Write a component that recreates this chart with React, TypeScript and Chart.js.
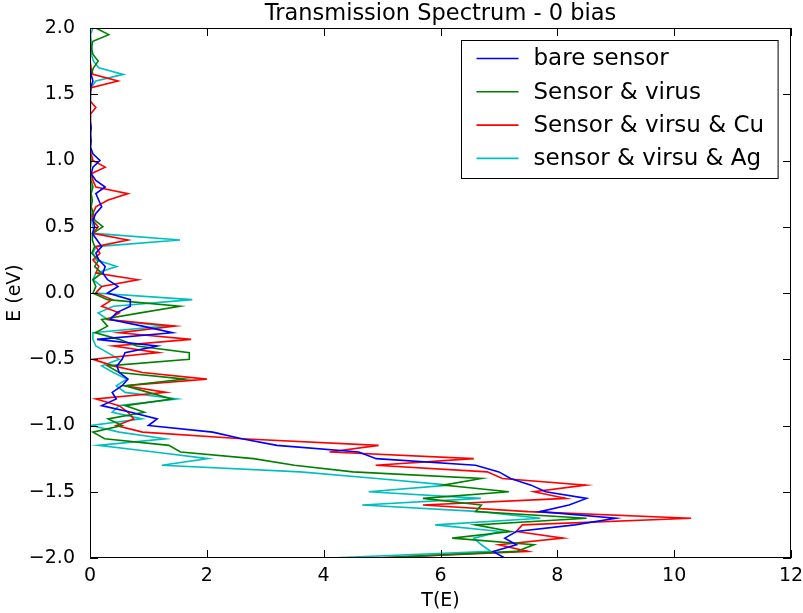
import { useEffect, useRef } from 'react';
import { Chart, registerables } from 'chart.js';

Chart.register(...registerables);

const energies = [
  2.0, 1.95, 1.9, 1.85, 1.8, 1.75, 1.7, 1.65, 1.6, 1.55,
  1.5, 1.45, 1.4, 1.35, 1.3, 1.25, 1.2, 1.15, 1.1, 1.05,
  1.0, 0.95, 0.9, 0.85, 0.8, 0.75, 0.7, 0.65, 0.6, 0.55,
  0.5, 0.45, 0.4, 0.35, 0.3, 0.25, 0.2, 0.15, 0.1, 0.05,
  0.0, -0.05, -0.1, -0.15, -0.2, -0.25, -0.3, -0.35, -0.4, -0.45,
  -0.5, -0.55, -0.6, -0.65, -0.7, -0.75, -0.8, -0.85, -0.9, -0.95,
  -1.0, -1.05, -1.1, -1.15, -1.2, -1.25, -1.3, -1.35, -1.4, -1.45,
  -1.5, -1.55, -1.6, -1.65, -1.7, -1.75, -1.8, -1.85, -1.9, -1.95,
  -2.0,
];

const bareSensor = [
  0, 0, 0, 0, 0, 0.01, 0, 0.02, 0.05, 0.01,
  0, 0, 0.01, 0, 0.01, 0.02, 0.01, 0.02, 0.01, 0.05,
  0.17, 0.05, 0.02, 0.1, 0.26, 0.1, 0.15, 0.2, 0.1, 0.05,
  0.08, 0.04, 0.12, 0.2, 0.1, 0.15, 0.26, 0.22, 0.3, 0.48,
  0.3, 0.69, 0.69, 0.45, 0.35, 0.9, 1.41, 0.12, 1.15, 0.6,
  0.55, 0.46, 0.5, 0.65, 0.55, 0.38, 0.45, 0.2, 0.7, 1.15,
  1.0, 2.1, 2.6, 3.2, 4.6, 4.9, 6.6, 7.0, 7.2, 7.55,
  7.8, 8.5, 8.2, 7.7, 9.0, 8.3, 7.3, 7.1, 7.3, 6.9,
  7.1,
];

const sensorVirus = [
  0.1, 0.32, 0.05, 0.02, 0.05, 0.14, 0.06, 0.02, 0, 0.01,
  0, 0, 0.01, 0, 0, 0.01, 0, 0, 0.01, 0,
  0.02, 0.01, 0, 0.02, 0.05, 0.02, 0.04, 0.02, 0.06, 0.08,
  0.22, 0.05, 0.04, 0.08, 0.03, 0.15, 0.08, 0.2, 0.05, 0.1,
  0.05, 0.3, 1.54, 0.86, 0.2, 0.3, 0.09, 0.5, 0.8, 1.7,
  1.7, 0.3, 0.5, 1.63, 0.6, 1.0, 1.4, 0.6, 0.93, 0.31,
  0.55, 0.05, 0.25, 1.35, 1.55, 2.8, 3.5, 4.5, 6.7, 6.05,
  7.17, 5.7, 6.7, 6.6, 8.5, 6.6, 7.2, 6.2, 7.6, 7.3,
  4.9,
];

const sensorVirusCu = [
  0, 0, 0, 0, 0.01, 0, 0.02, 0.05, 0.48, 0.02,
  0, 0, 0.1, 0.01, 0, 0, 0.01, 0, 0.01, 0.02,
  0.05, 0.26, 0.02, 0.05, 0.1, 0.65, 0.3, 0.1, 0.05, 0.04,
  0.14, 0.05, 0.65, 0.1, 0.17, 0.05, 0.15, 0.1, 0.82, 0.2,
  0.1, 0.38, 0.2, 0.5, 0.3, 1.46, 0.5, 1.73, 0.4, 1.17,
  0.05, 0.4, 0.9, 2.0, 0.6, 1.3, 0.1, 0.5, 0.65, 0.75,
  0.45, 0.9, 2.6, 4.94, 4.1, 6.57, 4.89, 6.8, 7.06, 8.49,
  7.6, 8.15, 5.7, 7.5, 10.29, 7.4, 7.3, 8.1, 7.0, 7.5,
  4.9,
];

const sensorVirusAg = [
  0.05, 0.01, 0.02, 0.04, 0.02, 0.06, 0.15, 0.57, 0.1, 0.02,
  0, 0, 0, 0.01, 0, 0, 0, 0.01, 0, 0,
  0.01, 0, 0.01, 0, 0.02, 0.01, 0.02, 0.01, 0.03, 0.02,
  0.05, 0.08, 1.54, 0.1, 0.05, 0.1, 0.46, 0.1, 0.05, 0.2,
  0.1, 1.75, 0.4, 0.14, 0.3, 1.29, 0.05, 0.05, 0.1, 0.3,
  0.5, 0.2, 0.4, 0.63, 0.45, 0.6, 1.49, 0.5, 0.38, 0.89,
  0.02, 0.5, 1.29, 0.14, 1.1, 2.02, 1.23, 3.6, 4.91, 6.14,
  4.77, 6.69, 4.66, 6.69, 7.71, 5.91, 7.03, 6.57, 6.7, 6.86,
  4.1,
];

const seriesLabels = ['bare sensor', 'Sensor & virus', 'Sensor & virsu & Cu', 'sensor & virsu & Ag'];
const seriesColors = ['#0000ff', '#008000', '#ff0000', '#00bfbf'];
const seriesValues = [bareSensor, sensorVirus, sensorVirusCu, sensorVirusAg];

const xTicks = [0, 2, 4, 6, 8, 10, 12];
const yTicks = [-2.0, -1.5, -1.0, -0.5, 0.0, 0.5, 1.0, 1.5, 2.0];

const titleText = 'Transmission Spectrum - 0 bias';
const xLabel = 'T(E)';
const yLabel = 'E (eV)';

const FONT = 'DejaVu Sans';

const decorPlugin = {
  id: 'decor',
  afterDatasetsDraw(chart: any) {
    const { ctx, chartArea: ca, scales } = chart;
    ctx.save();
    // frame
    ctx.strokeStyle = '#000';
    ctx.lineWidth = 1;
    ctx.strokeRect(ca.left + 0.5, ca.top + 0.5, ca.right - ca.left - 1, ca.bottom - ca.top - 1);
    // inward ticks on all sides
    const L = 8;
    ctx.beginPath();
    xTicks.forEach((v) => {
      const x = Math.round(scales.x.getPixelForValue(v)) + 0.5;
      ctx.moveTo(x, ca.bottom);
      ctx.lineTo(x, ca.bottom - L);
      ctx.moveTo(x, ca.top);
      ctx.lineTo(x, ca.top + L);
    });
    yTicks.forEach((v) => {
      const y = Math.round(scales.y.getPixelForValue(v)) + 0.5;
      ctx.moveTo(ca.left, y);
      ctx.lineTo(ca.left + L, y);
      ctx.moveTo(ca.right, y);
      ctx.lineTo(ca.right - L, y);
    });
    ctx.stroke();

    // title
    ctx.fillStyle = '#000';
    ctx.font = `22.5px "${FONT}"`;
    ctx.textAlign = 'center';
    ctx.textBaseline = 'middle';
    ctx.fillText(titleText, (ca.left + ca.right) / 2, 14);

    // legend
    ctx.font = `23px "${FONT}"`;
    const maxW = Math.max(...seriesLabels.map((s) => ctx.measureText(s).width));
    const boxW = 72 + maxW + 14;
    const boxH = 138;
    const bx = Math.round(ca.right - 13 - boxW) + 0.5;
    const by = Math.round(ca.top + 12) + 0.5;
    ctx.fillStyle = '#fff';
    ctx.fillRect(bx, by, boxW, boxH);
    ctx.strokeStyle = '#000';
    ctx.lineWidth = 1;
    ctx.strokeRect(bx, by, boxW, boxH);
    ctx.textAlign = 'left';
    ctx.textBaseline = 'middle';
    chart.data.datasets.forEach((ds: any, i: number) => {
      const cy = by + 18 + i * 33.3;
      ctx.strokeStyle = ds.borderColor;
      ctx.lineWidth = 1.6;
      ctx.beginPath();
      ctx.moveTo(bx + 15, cy);
      ctx.lineTo(bx + 57, cy);
      ctx.stroke();
      ctx.fillStyle = '#000';
      ctx.fillText(ds.label, bx + 72, cy + 1);
    });
    ctx.restore();
  },
};

export default function App() {
  const ref = useRef<HTMLCanvasElement>(null);
  useEffect(() => {
    const canvas = ref.current!;
    const chart = new Chart(canvas, {
      type: 'scatter',
      data: {
        datasets: seriesValues.map((vals, i) => ({
          label: seriesLabels[i],
          data: energies.map((e, j) => ({ x: vals[j], y: e })),
          showLine: true,
          borderColor: seriesColors[i],
          backgroundColor: seriesColors[i],
          borderWidth: 1.6,
          pointRadius: 0,
          pointHoverRadius: 0,
          tension: 0,
          fill: false,
        })),
      },
      options: {
        responsive: false,
        animation: false,
        devicePixelRatio: 1,
        layout: { padding: { top: 28, right: 12, left: 0, bottom: 0 } },
        plugins: {
          legend: { display: false },
          title: { display: false },
          tooltip: { enabled: false },
        },
        scales: {
          x: {
            type: 'linear',
            min: 0,
            max: 12,
            grid: { display: false, drawTicks: false },
            border: { display: false },
            ticks: {
              stepSize: 2,
              color: '#000',
              padding: 7,
              font: { family: FONT, size: 19 },
              callback: (v: any) => String(v),
            },
            title: {
              display: true,
              text: xLabel,
              color: '#000',
              font: { family: FONT, size: 19 },
              padding: { top: 0, bottom: 1 },
            },
            afterFit: (scale: any) => {
              scale.height = 55;
              scale.paddingLeft = 0;
              scale.paddingRight = 0;
            },
          },
          y: {
            type: 'linear',
            min: -2,
            max: 2,
            grid: { display: false, drawTicks: false },
            border: { display: false },
            ticks: {
              stepSize: 0.5,
              color: '#000',
              padding: 15,
              font: { family: FONT, size: 19 },
              callback: (v: any) => {
                const n = Number(v);
                const s = Math.abs(n).toFixed(1);
                return n < 0 ? '\u2212' + s : s;
              },
            },
            title: {
              display: true,
              text: yLabel,
              color: '#000',
              font: { family: FONT, size: 19 },
              padding: { top: 4, bottom: 0 },
            },
            afterFit: (scale: any) => {
              scale.width = 90;
              scale.paddingTop = 0;
              scale.paddingBottom = 0;
            },
          },
        },
      },
      plugins: [decorPlugin],
    });
    return () => chart.destroy();
  }, []);
  return (
    <div style={{ position: 'absolute', left: 0, top: 0, width: 803, height: 613, background: '#fff' }}>
      <canvas ref={ref} width={803} height={613} style={{ width: 803, height: 613, display: 'block' }} />
    </div>
  );
}
